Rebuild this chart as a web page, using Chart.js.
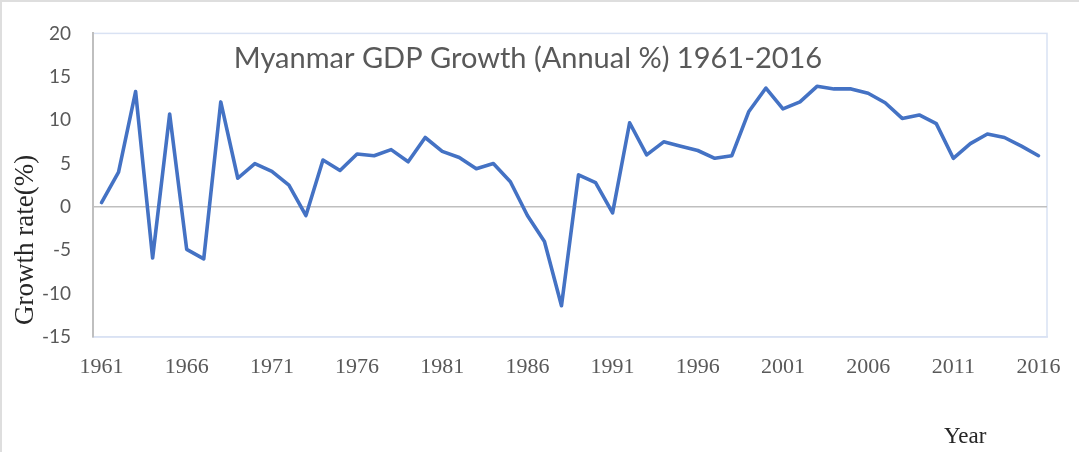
<!DOCTYPE html>
<html>
<head>
<meta charset="utf-8">
<script src="https://cdn.jsdelivr.net/npm/chart.js@4/dist/chart.umd.min.js"></script>
<style>
    html, body { margin: 0; padding: 0; background: #fff; }
    #wrap { width: 1079px; height: 452px; position: relative; }
</style>
</head>
<body>
<div id="wrap"><canvas id="gdp"></canvas></div>
<script>
const years = [
    "1961", "1962", "1963", "1964", "1965", "1966", "1967", "1968", "1969", "1970",
    "1971", "1972", "1973", "1974", "1975", "1976", "1977", "1978", "1979", "1980",
    "1981", "1982", "1983", "1984", "1985", "1986", "1987", "1988", "1989", "1990",
    "1991", "1992", "1993", "1994", "1995", "1996", "1997", "1998", "1999", "2000",
    "2001", "2002", "2003", "2004", "2005", "2006", "2007", "2008", "2009", "2010",
    "2011", "2012", "2013", "2014", "2015", "2016"
];

const growth = [
    0.5, 4.0, 13.3, -5.9, 10.7, -4.9, -6.0, 12.1, 3.3, 5.0,
    4.1, 2.5, -1.0, 5.4, 4.2, 6.1, 5.9, 6.6, 5.2, 8.0,
    6.4, 5.7, 4.4, 5.0, 2.9, -1.0, -4.0, -11.4, 3.7, 2.8,
    -0.7, 9.7, 6.0, 7.5, 7.0, 6.5, 5.6, 5.9, 11.0, 13.7,
    11.3, 12.1, 13.9, 13.6, 13.6, 13.1, 12.0, 10.2, 10.6, 9.6,
    5.6, 7.3, 8.4, 8.0, 7.0, 5.9
];

const xTickLabels = ["1961", "1966", "1971", "1976", "1981", "1986", "1991", "1996", "2001", "2006", "2011", "2016"];

const chartTitle = "Myanmar GDP Growth (Annual %) 1961-2016";
const yTitle = "Growth rate(%)";
const xTitle = "Year";

const ctx = document.getElementById("gdp");

// frame lines, inner title, axis titles
const decorations = {
    id: "decorations",
    beforeDraw(chart) {
        const c = chart.ctx;
        const a = chart.chartArea;
        c.save();
        c.fillStyle = "#fff";
        c.fillRect(0, 0, chart.width, chart.height);
        c.strokeStyle = "#dedede";
        c.lineWidth = 2;
        c.beginPath();
        c.moveTo(1, chart.height);
        c.lineTo(1, 1);
        c.lineTo(chart.width, 1);
        c.stroke();
        c.strokeStyle = "#d9e2f3";
        c.lineWidth = 1.5;
        c.strokeRect(a.left, a.top, a.right - a.left, a.bottom - a.top);
        c.restore();
    },
    afterDraw(chart) {
        const c = chart.ctx;
        const a = chart.chartArea;
        c.save();
        c.fillStyle = "#595959";
        c.font = "29px Lato";
        c.textAlign = "center";
        c.textBaseline = "alphabetic";
        c.fillText(chartTitle, 528, a.top + 35);

        c.fillStyle = "#262626";
        c.font = "23px 'Liberation Serif'";
        c.textAlign = "left";
        c.fillText(xTitle, 944, 443);

        c.font = "27px 'Liberation Serif'";
        c.translate(33, a.bottom - 12);
        c.rotate(-Math.PI / 2);
        c.fillText(yTitle, 0, 0);
        c.restore();
    }
};

new Chart(ctx, {
    type: "line",
    data: {
        labels: years,
        datasets: [{
            label: "GDP growth",
            data: growth,
            borderColor: "#4472c4",
            backgroundColor: "#4472c4",
            borderWidth: 3.6,
            borderJoinStyle: "round",
            borderCapStyle: "round",
            pointRadius: 0,
            tension: 0,
            fill: false
        }]
    },
    options: {
        responsive: true,
        maintainAspectRatio: false,
        animation: false,
        layout: { padding: { top: 30, right: 32, left: 0, bottom: 0 } },
        plugins: {
            legend: { display: false },
            title: { display: false },
            tooltip: { enabled: false }
        },
        scales: {
            x: {
                offset: true,
                afterFit(scale) { scale.height = 115; },
                grid: { display: false, drawTicks: false },
                border: { display: true, color: "#d9e2f3", width: 1.5 },
                ticks: {
                    autoSkip: false,
                    maxRotation: 0,
                    padding: 17,
                    color: "#595959",
                    font: { family: "'Liberation Serif'", size: 22 },
                    callback: (val, i) => xTickLabels.includes(years[i]) ? years[i] : ""
                }
            },
            y: {
                min: -15,
                max: 20,
                afterFit(scale) { scale.width = 93; },
                grid: {
                    drawTicks: false,
                    lineWidth: 1.5,
                    color: c => c.tick && c.tick.value === 0 ? "#bfbfbf" : "transparent"
                },
                border: { display: true, color: "#bfbfbf", width: 2 },
                ticks: {
                    stepSize: 5,
                    padding: 22,
                    color: "#595959",
                    font: { family: "Lato", size: 19 }
                }
            }
        }
    },
    plugins: [decorations]
});
</script>
</body>
</html>
